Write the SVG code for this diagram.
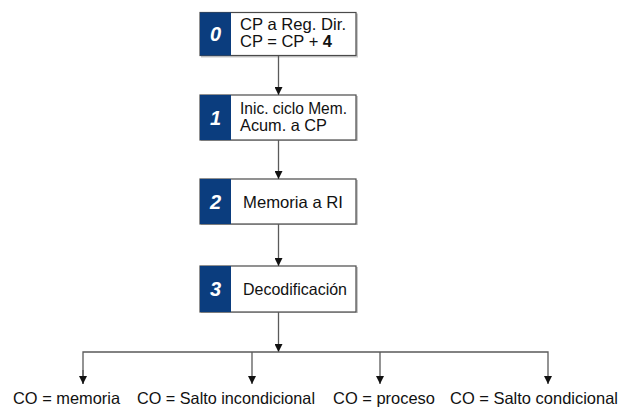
<svg xmlns="http://www.w3.org/2000/svg" width="621" height="408" viewBox="0 0 621 408">
<defs>
<style>
.box{fill:#fff;stroke:#4a4a4a;stroke-width:1.2}
.shadow{fill:#c8c8c8}
.num{fill:#0b3d7e}
.digit{font-family:"Liberation Sans",Arial,sans-serif;font-size:20px;font-weight:bold;font-style:italic;fill:#fff;text-anchor:middle}
.t{font-family:"Liberation Sans",Arial,sans-serif;font-size:16.5px;fill:#111}
.lbl{font-family:"Liberation Sans",Arial,sans-serif;font-size:16.5px;fill:#111}
.ln{fill:none;stroke:#5a5a5a;stroke-width:1.3}
</style>
<marker id="ah" viewBox="0 0 8 8" refX="8" refY="4" markerWidth="8" markerHeight="8" markerUnits="userSpaceOnUse" orient="auto">
<path d="M0,0 L8,4 L0,8 Z" fill="#111"/>
</marker>
</defs>
<rect width="621" height="408" fill="#fff"/>
<g id="n0">
<rect class="shadow" x="201" y="13.5" width="157" height="44"/>
<rect class="box" x="200" y="12.5" width="156" height="43"/>
<rect class="num" x="200" y="12.5" width="31" height="43"/>
<text class="digit" x="215.5" y="41">0</text>
<text class="t" x="240" y="30" textLength="106" lengthAdjust="spacingAndGlyphs">CP a Reg. Dir.</text>
<text class="t" x="240" y="47">CP = CP + <tspan font-weight="bold">4</tspan></text>
</g>
<g id="n1">
<rect class="shadow" x="201" y="96" width="157" height="45"/>
<rect class="box" x="200" y="95" width="156" height="45"/>
<rect class="num" x="200" y="95" width="31" height="45"/>
<text class="digit" x="215.5" y="124.5">1</text>
<text class="t" x="240" y="114" textLength="107" lengthAdjust="spacingAndGlyphs">Inic. ciclo Mem.</text>
<text class="t" x="240" y="131" textLength="87" lengthAdjust="spacingAndGlyphs">Acum. a CP</text>
</g>
<g id="n2">
<rect class="shadow" x="201" y="180" width="157" height="45"/>
<rect class="box" x="200" y="179" width="156" height="45"/>
<rect class="num" x="200" y="179" width="31" height="45"/>
<text class="digit" x="215.5" y="208.5">2</text>
<text class="t" x="243" y="207.5" textLength="100" lengthAdjust="spacingAndGlyphs">Memoria a RI</text>
</g>
<g id="n3">
<rect class="shadow" x="201" y="267" width="157" height="46"/>
<rect class="box" x="200" y="266" width="156" height="46"/>
<rect class="num" x="200" y="266" width="31" height="46"/>
<text class="digit" x="215.5" y="296">3</text>
<text class="t" x="243" y="294.5" textLength="104" lengthAdjust="spacingAndGlyphs">Decodificación</text>
</g>
<g id="connectors">
<line class="ln" x1="278.5" y1="56" x2="278.5" y2="95" marker-end="url(#ah)"/>
<line class="ln" x1="278.5" y1="140" x2="278.5" y2="179" marker-end="url(#ah)"/>
<line class="ln" x1="278.5" y1="224" x2="278.5" y2="266" marker-end="url(#ah)"/>
<line class="ln" x1="278.5" y1="312" x2="278.5" y2="352" marker-end="url(#ah)"/>
<polyline class="ln" points="83,384 83,352 548,352 548,384" marker-end="url(#ah)"/>
<line class="ln" x1="83" y1="370" x2="83" y2="384" marker-end="url(#ah)"/>
<line class="ln" x1="252" y1="352" x2="252" y2="384" marker-end="url(#ah)"/>
<line class="ln" x1="380" y1="352" x2="380" y2="384" marker-end="url(#ah)"/>
</g>
<g id="labels">
<text class="lbl" x="13" y="404" textLength="107" lengthAdjust="spacingAndGlyphs">CO = memoria</text>
<text class="lbl" x="137" y="404" textLength="178" lengthAdjust="spacingAndGlyphs">CO = Salto incondicional</text>
<text class="lbl" x="333" y="404" textLength="102" lengthAdjust="spacingAndGlyphs">CO = proceso</text>
<text class="lbl" x="450" y="404" textLength="168" lengthAdjust="spacingAndGlyphs">CO = Salto condicional</text>
</g>
</svg>
